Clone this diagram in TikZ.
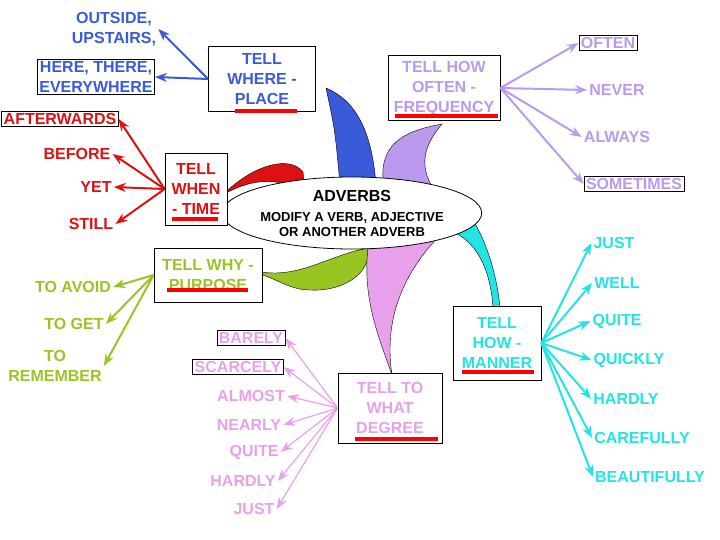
\documentclass[tikz,border=0pt]{standalone}
\usepackage{fontspec}
\setmainfont{Liberation Sans}
\usetikzlibrary{arrows.meta,shapes.geometric}
\definecolor{placec}{HTML}{3A5BD9}
\definecolor{timec}{HTML}{DD1111}
\definecolor{whyc}{HTML}{99C522}
\definecolor{degc}{HTML}{E9A0EC}
\definecolor{howc}{HTML}{22E4E4}
\definecolor{freqc}{HTML}{BB99EE}
\tikzset{
	hub/.style={rectangle, draw=black, thick, fill=white, font=\bfseries\fontsize{16}{20}\selectfont, align=center, inner sep=3pt},
	leaf/.style={font=\bfseries\fontsize{16}{20}\selectfont, inner sep=2pt},
	boxed/.style={leaf, draw=black, semithick},
	arr/.style={-{Stealth[length=12pt,width=9pt]}, line width=2pt},
	petal/.style={draw=black, thin},
	bar/.style={red, line width=4pt},
}
\begin{document}
\begin{tikzpicture}[x=1pt,y=-1pt]
\useasboundingbox (0,0) rectangle (720,540);
% petals
\filldraw[petal, fill=placec] (340,185) .. controls (335,130) .. (326,88) .. controls (355,100) and (372,130) .. (376,185) -- cycle;
\filldraw[petal, fill=freqc] (383,180) .. controls (380,140) and (410,130) .. (442,124) .. controls (420,150) and (420,170) .. (437,195) -- cycle;
\filldraw[petal, fill=timec] (228,190) .. controls (255,165) and (290,155) .. (303,172) -- (305,192) .. controls (280,178) and (255,178) .. (228,192) -- cycle;
\filldraw[petal, fill=whyc] (262,272) .. controls (300,278) and (330,255) .. (368,248) .. controls (372,275) and (340,292) .. (310,290) .. controls (290,290) and (275,278) .. (262,275) -- cycle;
\filldraw[petal, fill=degc] (368,248) .. controls (362,300) and (380,340) .. (392,375) .. controls (385,330) and (395,280) .. (443,232) -- cycle;
\filldraw[petal, fill=howc] (440,197) .. controls (465,190) and (495,250) .. (500,308) -- (493,308) .. controls (490,260) and (470,235) .. (443,228) -- cycle;
% centre
\node[ellipse, draw=black, thick, fill=white, minimum width=192pt, minimum height=72pt, align=center, font=\bfseries\fontsize{13}{15}\selectfont, inner sep=0pt] (adv) at (352,213)
	{\fontsize{16}{18}\selectfont ADVERBS\\[5pt] MODIFY A VERB, ADJECTIVE\\ OR ANOTHER ADVERB};
% hubs
\node[hub, text=placec, minimum width=107pt, minimum height=65pt] (place) at (262,79) {TELL\\WHERE -\\PLACE};
\node[hub, text=freqc, minimum width=112pt, minimum height=65pt] (freq) at (444,88) {TELL HOW\\OFTEN -\\FREQUENCY};
\node[hub, text=timec, minimum width=62pt, minimum height=72pt] (time) at (196,189) {TELL\\WHEN\\- TIME};
\node[hub, text=whyc, minimum width=108pt, minimum height=54pt] (why) at (208,275) {TELL WHY -\\PURPOSE};
\node[hub, text=howc, minimum width=88pt, minimum height=74pt] (how) at (497,343) {TELL\\HOW -\\MANNER};
\node[hub, text=degc, minimum width=104pt, minimum height=70pt] (deg) at (390,408) {TELL TO\\WHAT\\DEGREE};
\draw[bar] (235,111) -- (297,111);
\draw[bar] (395,116) -- (498,116);
\draw[bar] (172,219) -- (218,219);
\draw[bar] (167,290) -- (248,290);
\draw[bar] (462,372) -- (534,372);
\draw[bar] (355,439) -- (438,439);
% place
\node[leaf, text=placec, align=center] (p1) at (114,29) {OUTSIDE,\\UPSTAIRS,};
\node[boxed, text=placec, align=center] (p2) at (96,77) {HERE, THERE,\\EVERYWHERE};
\foreach \l in {p1,p2} \draw[arr, placec] (place.west) -- (\l.east);
% time
\node[boxed, text=timec] (t1) at (60,119) {AFTERWARDS};
\node[leaf, text=timec] (t2) at (77,154) {BEFORE};
\node[leaf, text=timec] (t3) at (96,187) {YET};
\node[leaf, text=timec] (t4) at (91,224) {STILL};
\foreach \l in {t1,t2,t3,t4} \draw[arr, timec] (time.west) -- (\l.east);
% purpose
\node[leaf, text=whyc] (w1) at (73,287) {TO AVOID};
\node[leaf, text=whyc] (w2) at (74,324) {TO GET};
\node[leaf, text=whyc, align=center] (w3) at (55,366) {TO\\REMEMBER};
\foreach \l in {w1,w2,w3} \draw[arr, whyc] (why.west) -- (\l.east);
% frequency
\node[boxed, text=freqc] (f1) at (608,43) {OFTEN};
\node[leaf, text=freqc] (f2) at (617,90) {NEVER};
\node[leaf, text=freqc] (f3) at (617,137) {ALWAYS};
\node[boxed, text=freqc] (f4) at (634,184) {SOMETIMES};
\foreach \l in {f1,f2,f3,f4} \draw[arr, freqc] (freq.east) -- (\l.west);
% manner
\foreach \n/\t/\y/\x in {m1/JUST/243/614, m2/WELL/283/617, m3/QUITE/321/617, m4/QUICKLY/360/629, m5/HARDLY/399/626, m6/CAREFULLY/438/642, m7/BEAUTIFULLY/477/650}
	\node[leaf, text=howc] (\n) at (\x,\y) {\t};
\foreach \l in {m1,m2,m3,m4,m5,m6,m7} \draw[arr, howc] (how.east) -- (\l.west);
% degree
\node[boxed, text=degc] (d1) at (251,338) {BARELY};
\node[boxed, text=degc] (d2) at (238,367) {SCARCELY};
\foreach \n/\t/\y/\x in {d3/ALMOST/396/251, d4/NEARLY/425/249, d5/QUITE/452/254, d6/HARDLY/481/243, d7/JUST/509/254}
	\node[leaf, text=degc] (\n) at (\x,\y) {\t};
\foreach \l in {d1,d2,d3,d4,d5,d6,d7} \draw[arr, degc, line width=1.2pt] (deg.west) -- (\l.east);
\end{tikzpicture}
\end{document}
